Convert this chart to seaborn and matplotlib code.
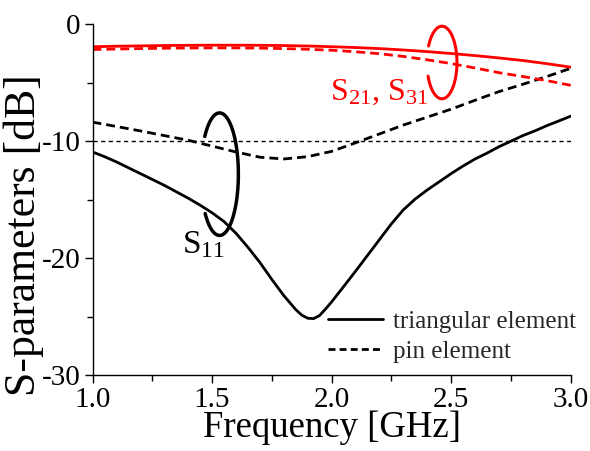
import numpy as np
import pandas as pd
import matplotlib
matplotlib.use("Agg")
import matplotlib.pyplot as plt
from matplotlib.lines import Line2D
from matplotlib.ticker import MultipleLocator
import seaborn as sns

# ---- data ----
freq = [1.0, 1.1, 1.2, 1.3, 1.4, 1.5, 1.6, 1.7, 1.8, 1.9, 2.0,
        2.1, 2.2, 2.3, 2.4, 2.5, 2.6, 2.7, 2.8, 2.9, 3.0]
s21_triangular = [-1.90, -1.86, -1.83, -1.80, -1.78, -1.77, -1.77, -1.78, -1.80, -1.84, -1.90,
                  -1.97, -2.06, -2.18, -2.32, -2.48, -2.66, -2.86, -3.08, -3.35, -3.65]
s21_pin = [-2.14, -2.10, -2.06, -2.03, -2.01, -2.00, -2.00, -2.02, -2.06, -2.12, -2.20,
           -2.33, -2.50, -2.73, -3.02, -3.34, -3.72, -4.12, -4.45, -4.80, -5.20]
s11_pin = [-8.35, -8.72, -9.10, -9.50, -9.90, -10.40, -10.90, -11.35, -11.50, -11.30, -10.85,
           -10.12, -9.36, -8.60, -7.92, -7.24, -6.48, -5.74, -5.11, -4.45, -3.75]

freq_tri = [1.0, 1.05, 1.1, 1.15, 1.2, 1.25, 1.3, 1.35, 1.4, 1.45, 1.5, 1.55, 1.6, 1.65,
            1.7, 1.75, 1.8, 1.85, 1.875, 1.9, 1.925, 1.95, 1.975, 2.0, 2.05, 2.1, 2.15,
            2.2, 2.25, 2.3, 2.35, 2.4, 2.45, 2.5, 2.55, 2.6, 2.65, 2.7, 2.75, 2.8, 2.85,
            2.9, 2.95, 3.0]
s11_triangular = [-10.90, -11.30, -11.75, -12.25, -12.75, -13.25, -13.75, -14.30, -14.85,
                  -15.45, -16.10, -16.85, -17.85, -19.05, -20.35, -21.80, -23.18, -24.38,
                  -24.85, -25.12, -25.15, -24.88, -24.32, -23.72, -22.42, -21.10, -19.75,
                  -18.40, -17.05, -15.85, -14.92, -14.15, -13.45, -12.75, -12.10, -11.50,
                  -11.00, -10.45, -9.98, -9.50, -9.10, -8.65, -8.25, -7.84]

elements = ["triangular element", "pin element"]
params = ["S11", "S21"]

# ---- style ----
sns.set_theme(style="ticks")
plt.rcParams["font.family"] = ["Liberation Serif", "DejaVu Serif"]
plt.rcParams["mathtext.fontset"] = "custom"
plt.rcParams["mathtext.rm"] = "Liberation Serif"
plt.rcParams["mathtext.default"] = "regular"
plt.rcParams["axes.unicode_minus"] = False

frames = [
    pd.DataFrame({"freq": freq_tri, "dB": s11_triangular, "param": params[0], "element": elements[0]}),
    pd.DataFrame({"freq": freq, "dB": s11_pin, "param": params[0], "element": elements[1]}),
    pd.DataFrame({"freq": freq, "dB": s21_triangular, "param": params[1], "element": elements[0]}),
    pd.DataFrame({"freq": freq, "dB": s21_pin, "param": params[1], "element": elements[1]}),
]
df = pd.concat(frames, ignore_index=True)

fig = plt.figure(figsize=(5.9, 4.51), dpi=100)
ax = fig.add_axes([0.1568, 0.1678, 0.8105, 0.7779])

dash = (3.2, 1.8)
sns.lineplot(data=df, x="freq", y="dB", hue="param", style="element",
             palette={"S11": "black", "S21": "red"},
             dashes={"triangular element": "", "pin element": dash},
             linewidth=2.0, legend=False, ax=ax, estimator=None)
for ln in ax.get_lines():
    ln.set_solid_joinstyle("round")

ax.axhline(-10, color="black", lw=1.0, dashes=(3, 2.5), zorder=1)

# open ellipses (annotation marks)
t = np.deg2rad(np.linspace(-140, 142, 200))
ax.plot(1.5314 + 0.0787 * np.cos(t), -12.80 + 5.24 * np.sin(t), color="black", lw=2.5,
        solid_capstyle="round")
t2 = np.deg2rad(np.linspace(-158, 153, 200))
ax.plot(2.4615 + 0.0628 * np.cos(t2), -3.25 + 3.105 * np.sin(t2), color="red", lw=2.2,
        solid_capstyle="round")

ax.text(1.3727, -19.55, r"S$_{11}$", fontsize=24, color="black", ha="left", va="baseline")
ax.text(1.9946, -6.46, r"S$_{21}$, S$_{31}$", fontsize=23, color="red", ha="left", va="baseline")

ax.set_xlim(1.0, 3.0)
ax.set_ylim(-30, 0)
ax.set_xticks([1.0, 1.5, 2.0, 2.5, 3.0])
ax.set_xticklabels(["1.0", "1.5", "2.0", "2.5", "3.0"])
ax.set_yticks([0, -10, -20, -30])
ax.set_yticklabels(["0", "-10", "-20", "-30"])
ax.xaxis.set_minor_locator(MultipleLocator(0.25))
ax.yaxis.set_minor_locator(MultipleLocator(5))
ax.tick_params(which="both", direction="out", color="black", width=1.0, labelsize=21,
               labelcolor="black")
ax.tick_params(which="major", length=5.5, pad=3)
ax.tick_params(which="minor", length=4)
sns.despine(ax=ax)
for s in ["left", "bottom"]:
    ax.spines[s].set_color("black")
    ax.spines[s].set_linewidth(1.0)

ax.set_xlabel("Frequency [GHz]", fontsize=26.5, color="black")
ax.set_ylabel("S-parameters [dB]", fontsize=31.5, color="black")
ax.xaxis.set_label_coords(0.5, -0.176)
ax.xaxis.label.set_verticalalignment("baseline")
ax.yaxis.set_label_coords(-0.12, 0.3985)
ax.yaxis.label.set_verticalalignment("baseline")

handles = [Line2D([], [], color="black", lw=2.0, label=elements[0]),
           Line2D([], [], color="black", lw=2.0, dashes=(2.5, 1.5), label=elements[1])]
ax.legend(handles=handles, loc="upper left", bbox_to_anchor=(0.4925, 0.186),
          frameon=False, fontsize=18, handlelength=2.2, handletextpad=0.4,
          labelspacing=0.32, borderpad=0, borderaxespad=0)

fig.savefig("out.png", dpi=100)
